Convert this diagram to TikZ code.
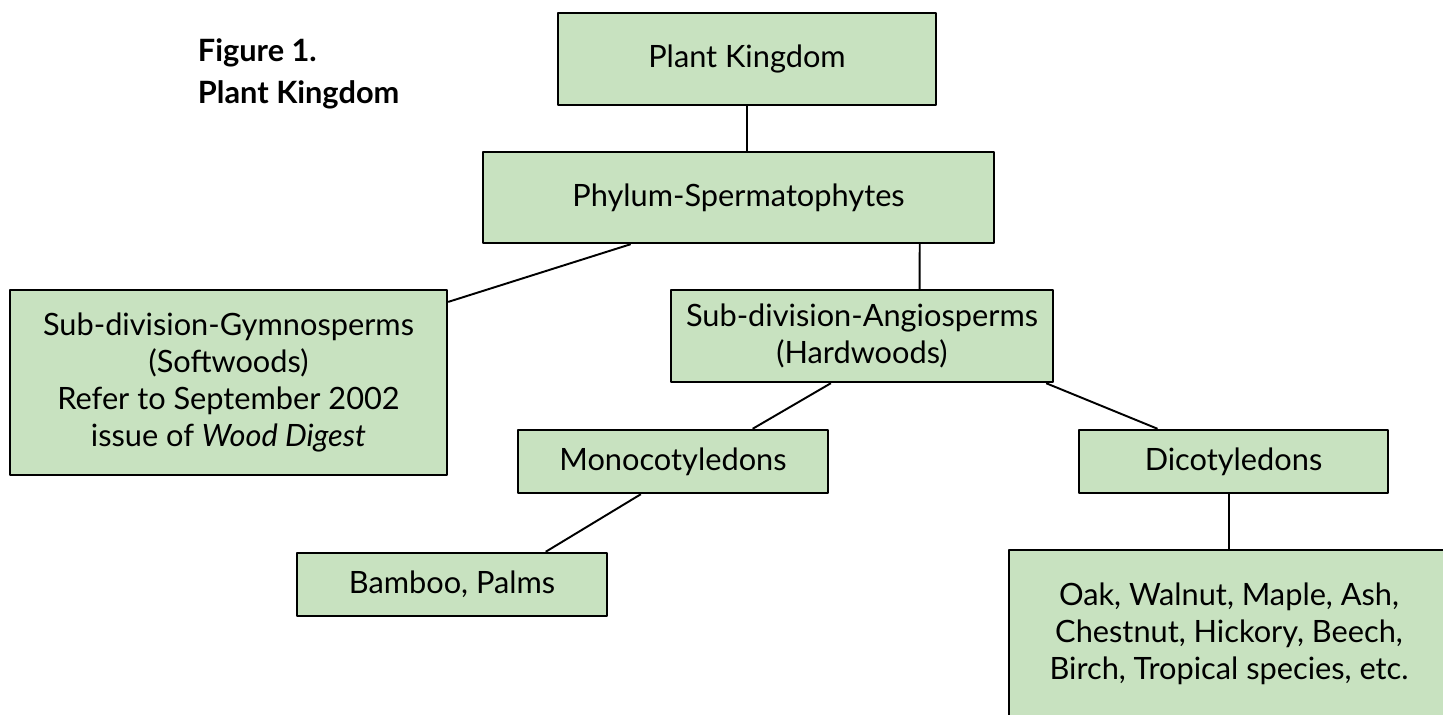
\documentclass[tikz,border=0pt]{standalone}
\usepackage{fontspec}
\setmainfont{Lato}
\usetikzlibrary{calc}
\definecolor{leaf}{RGB}{200,226,192}
\begin{document}
\begin{tikzpicture}[x=0.02cm,y=-0.02cm,line width=1.1pt,font=\fontsize{17.5}{21}\selectfont, line join=round,
  box/.style={draw,fill=leaf,line width=1.4pt,inner sep=0pt,align=center}]
\useasboundingbox(0,0)rectangle(1443,715);
\clip(0,0)rectangle(1443,715);
\path(197,38)node[anchor=north west,align=left,inner sep=0pt,font=\bfseries\fontsize{17.5}{24}\selectfont](title){Figure 1.\\Plant Kingdom};
\node[box,minimum width=7.56cm,minimum height=1.84cm](pk)at(747,59){Plant Kingdom};
\node[box,minimum width=10.22cm,minimum height=1.82cm](phy)at(738.5,197.5){Phylum-Spermatophytes};
\node[box,minimum width=8.74cm,minimum height=3.7cm](gym)at(228.5,382.5){Sub-division-Gymnosperms\\(Softwoods)\\Refer to September 2002\\issue of \textit{Wood Digest}};
\node[box,minimum width=7.64cm,minimum height=1.84cm](ang)at(862,336){Sub-division-Angiosperms\\(Hardwoods)};
\node[box,minimum width=6.2cm,minimum height=1.26cm](mono)at(673,461.5){Monocotyledons};
\node[box,minimum width=6.18cm,minimum height=1.26cm](dico)at(1233.5,461.5){Dicotyledons};
\node[box,minimum width=6.2cm,minimum height=1.26cm](bam)at(452,584.5){Bamboo, Palms};
\node[box,minimum width=8.8cm,minimum height=3.36cm](oak)at(1229,634){Oak, Walnut, Maple, Ash,\\Chestnut, Hickory, Beech,\\Birch, Tropical species, etc.};
\draw(pk.south)--(pk.south|-phy.north);
\draw($(phy.south west)!0.29!(phy.south east)$)--($(gym.north east)!0.07!(gym.south east)$);
\draw($(phy.south west)!0.853!(phy.south east)$)--($(ang.north west)!0.65!(ang.north east)$);
\draw($(ang.south west)!0.419!(ang.south east)$)--($(mono.north west)!0.755!(mono.north east)$);
\draw($(ang.south west)!0.979!(ang.south east)$)--($(dico.north west)!0.256!(dico.north east)$);
\draw($(mono.south west)!0.397!(mono.south east)$)--($(bam.north west)!0.8!(bam.north east)$);
\draw(oak.north|-dico.south)--(oak.north);
\end{tikzpicture}
\end{document}
